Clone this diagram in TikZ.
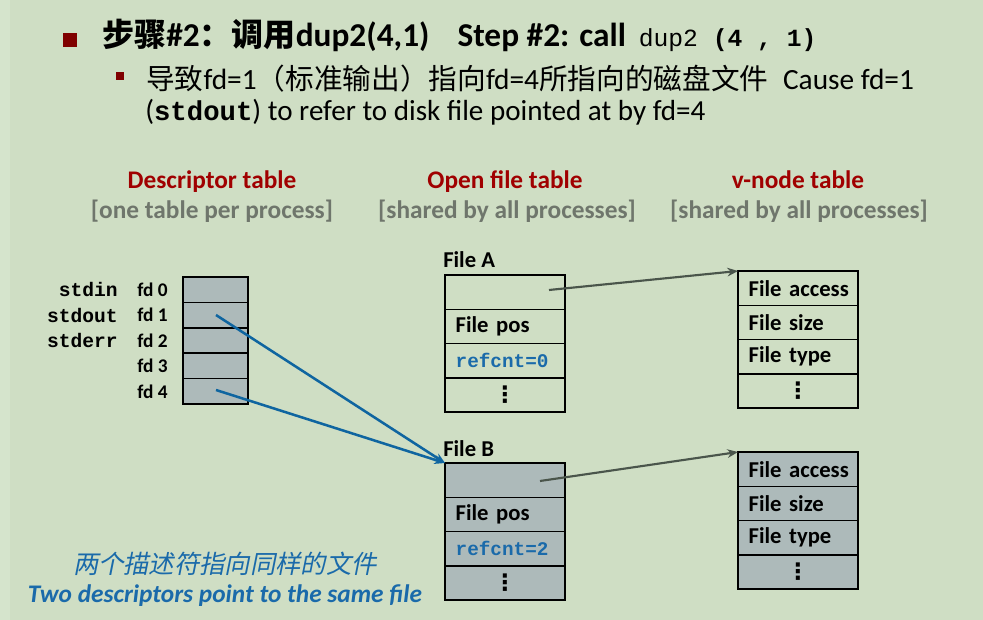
\documentclass[tikz,border=0pt]{standalone}
\usepackage{fontspec}
\setmainfont{Carlito}
\setmonofont{Liberation Mono}
\newfontfamily\cjk{Noto Sans CJK SC}
\newfontfamily\cjkit{Noto Sans CJK SC}[FakeSlant=0.2]
\newfontfamily\dejavu{DejaVu Sans}
\usetikzlibrary{arrows.meta,calc}
\definecolor{bg}{HTML}{CFDEC4}
\definecolor{bgl}{HTML}{D5E4CC}
\definecolor{darkred}{HTML}{7F0000}
\definecolor{hdrred}{HTML}{A00000}
\definecolor{hdrgray}{HTML}{6F766C}
\definecolor{cellgray}{HTML}{ADBABA}
\definecolor{ablue}{HTML}{0F65A0}
\definecolor{agray}{HTML}{4A554B}
\definecolor{tblue}{HTML}{1A6AAA}
\begin{document}
\begin{tikzpicture}[x=0.75pt,y=-0.75pt,
  dcell/.style={draw=black, line width=1.1pt, fill=cellgray, minimum width=48.75pt, minimum height=19.05pt, inner sep=0pt, outer sep=0pt, anchor=north west},
  fcell/.style={draw=black, line width=1.1pt, minimum height=25.7pt, text width=74pt, inner xsep=8pt, inner ysep=0pt, outer sep=0pt, anchor=north west, align=left, font=\fontsize{17}{20}\selectfont\bfseries},
  gcell/.style={fcell, fill=cellgray},
  refc/.style={font=\fontsize{14.5}{17}\selectfont\ttfamily\bfseries, text=tblue},
  dotc/.style={align=center, font=\fontsize{17}{20}\selectfont\dejavu\bfseries},
  fdlab/.style={anchor=east, inner sep=0pt, font=\fontsize{14.5}{17}\selectfont\bfseries},
  stdlab/.style={anchor=east, inner sep=0pt, font=\fontsize{14.7}{17}\selectfont\ttfamily\bfseries},
  hdr/.style={anchor=base, inner sep=0pt, font=\fontsize{19}{22}\selectfont\bfseries, text=hdrred},
  hdrsub/.style={anchor=base, inner sep=0pt, font=\fontsize{19}{22}\selectfont\bfseries, text=hdrgray},
  lbl/.style={anchor=base west, inner sep=0pt, font=\fontsize{17}{20}\selectfont\bfseries},
  garrow/.style={draw=agray, line width=1.6pt, -{Stealth[length=8pt,width=6.5pt]}},
  barrow/.style={draw=ablue, line width=1.9pt, -{Stealth[length=8pt,width=6.5pt]}}
]
\useasboundingbox (0,0) rectangle (983,620);
\fill[bg] (0,0) rectangle (983,620);
\fill[bgl] (0,0) rectangle (10,620);

% title
\fill[darkred] (63,33) rectangle (77,47);
\node[anchor=base west, inner sep=0pt] (title) at (102,47)
  {\fontsize{25}{30}\selectfont\bfseries{\fontsize{24}{30}\selectfont\cjk 步骤}\#2{\fontsize{24}{30}\selectfont\cjk ：调用}dup2(4,1)\hspace{21pt}Step \#2: call\hspace{4pt} {\ttfamily\fontsize{18.5}{28}\selectfont{\mdseries dup2} (4 , 1)}};
\fill[darkred] (116,72) rectangle (124,80);
\node[anchor=base west, inner sep=0pt] (sub1) at (146,90)
  {\fontsize{22}{26}\selectfont{\fontsize{21.5}{26}\selectfont\cjk 导致}fd=1{\fontsize{21.5}{26}\selectfont\cjk （标准输出）指向}fd=4{\fontsize{21.5}{26}\selectfont\cjk 所指向的磁盘文件}\hspace{11pt}Cause fd=1};
\node[anchor=base west, inner sep=0pt] (sub2) at (145,121)
  {\fontsize{21.8}{26}\selectfont({\ttfamily\bfseries\fontsize{20.5}{24}\selectfont stdout}) to refer to disk file pointed at by fd=4};

% headers
\node[hdr] (h1) at (212,189) {Descriptor table};
\node[hdrsub] (h1s) at (212,219) {[one table per process]};
\node[hdr] (h2) at (505,189) {Open file table};
\node[hdrsub] (h2s) at (507,219) {[shared by all processes]};
\node[hdr] (h3) at (798,189) {v-node table};
\node[hdrsub] (h3s) at (799,219) {[shared by all processes]};

% descriptor table
\node[dcell] (d0) at (183,277) {};
\node[dcell] (d1) at (d0.south west) {};
\node[dcell] (d2) at (d1.south west) {};
\node[dcell] (d3) at (d2.south west) {};
\node[dcell] (d4) at (d3.south west) {};
\node[fdlab] (l0) at ($(d0.west)+(-15,0)$) {fd 0};
\node[fdlab] (l1) at ($(d1.west)+(-15,0)$) {fd 1};
\node[fdlab] (l2) at ($(d2.west)+(-15,0)$) {fd 2};
\node[fdlab] (l3) at ($(d3.west)+(-15,0)$) {fd 3};
\node[fdlab] (l4) at ($(d4.west)+(-15,0)$) {fd 4};
\node[stdlab] (s0) at ($(d0.west)+(-65,0)$) {stdin};
\node[stdlab] (s1) at ($(d1.west)+(-65,0)$) {stdout};
\node[stdlab] (s2) at ($(d2.west)+(-65,0)$) {stderr};

% File A
\node[lbl] (fal) at (443,268) {File A};
\node[fcell] (fa0) at (445,275) {\strut};
\node[fcell] (fa1) at (fa0.south west) {\mbox{File pos}};
\node[fcell, refc] (fa2) at (fa1.south west) {refcnt=0};
\node[fcell, dotc] (fa3) at (fa2.south west) {⋮};

% File B
\node[lbl] (fbl) at (443,457) {File B};
\node[gcell] (fb0) at (445,463) {\strut};
\node[gcell] (fb1) at (fb0.south west) {\mbox{File pos}};
\node[gcell, refc] (fb2) at (fb1.south west) {refcnt=2};
\node[gcell, dotc] (fb3) at (fb2.south west) {⋮};

% v-node A
\node[fcell] (va0) at (738,271) {\mbox{File access}};
\node[fcell] (va1) at (va0.south west) {\mbox{File size}};
\node[fcell] (va2) at (va1.south west) {\mbox{File type}};
\node[fcell, dotc] (va3) at (va2.south west) {⋮};

% v-node B
\node[gcell] (vb0) at (738,452) {\mbox{File access}};
\node[gcell] (vb1) at (vb0.south west) {\mbox{File size}};
\node[gcell] (vb2) at (vb1.south west) {\mbox{File type}};
\node[gcell, dotc] (vb3) at (vb2.south west) {⋮};

% arrows
\coordinate (pa) at (549,290);
\coordinate (pb) at (540,481);
\coordinate (p1) at (216,315);
\coordinate (p4) at (216,390);
\draw[garrow] (pa) -- (va0.north west);
\draw[garrow] (pb) -- (vb0.north west);
\draw[barrow] (p1) -- (fb0.north west);
\draw[barrow] (p4) -- (fb0.north west);

% bottom note
\node[anchor=base, inner sep=0pt, text=tblue] (n1) at (225,573)
  {\fontsize{19}{22}\selectfont\cjkit 两个描述符指向同样的文件};
\node[anchor=base, inner sep=0pt, text=tblue] (n2) at (225,603)
  {\fontsize{19}{22}\selectfont\bfseries\itshape Two descriptors point to the same file};
\end{tikzpicture}
\end{document}
